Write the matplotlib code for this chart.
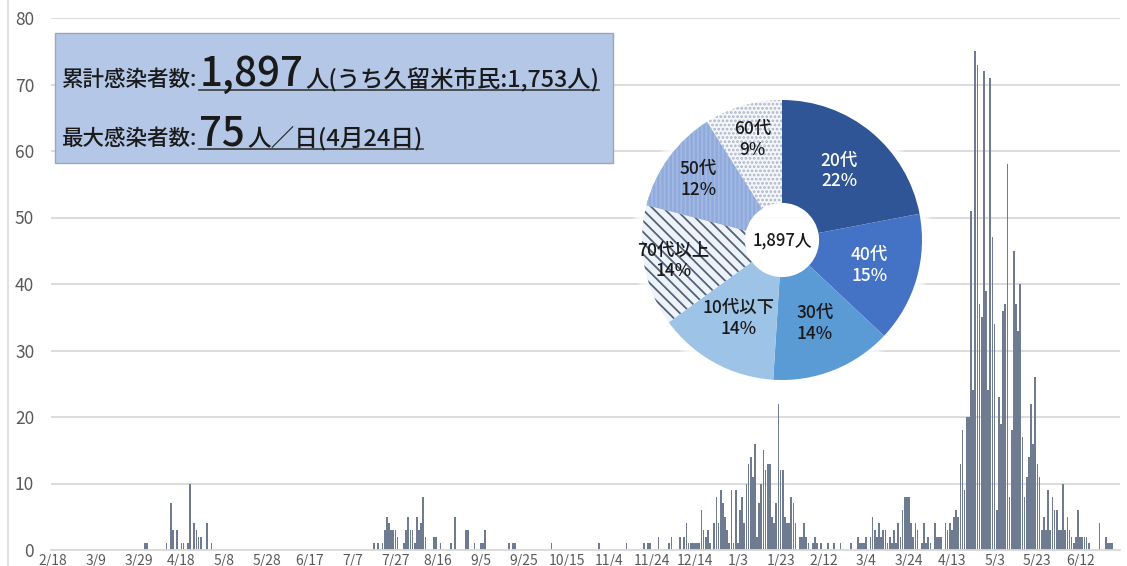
import matplotlib
matplotlib.use("Agg")
import matplotlib.pyplot as plt
import numpy as np
import pandas as pd
from matplotlib.patches import Rectangle, Wedge, Circle
from matplotlib.lines import Line2D

plt.rcParams['font.family'] = ['Noto Sans CJK JP', 'DejaVu Sans']
plt.rcParams['hatch.linewidth'] = 1.3

# ---------------- data ----------------
first_day = "2020-02-18"
n_days = 500

wave1_start = "2020-04-01"
wave1_cases = [1, 1, 0, 0, 0, 0, 0, 0, 0, 0,
               1, 0, 7, 3, 0, 3, 0, 1, 1, 0,
               1, 10, 0, 4, 3, 2, 2, 0, 0, 4,
               0, 1]

wave2_start = "2020-07-17"
wave2_cases = [1, 0, 1, 0, 1, 3, 5, 4, 3, 3,
               3, 2, 0, 0, 1, 3, 5, 3, 3, 1,
               5, 3, 4, 8, 2, 0, 0, 0, 2, 2,
               0, 1, 0, 0, 0, 0, 1, 0, 5, 0,
               0, 0, 0, 3, 3, 0, 0, 1, 0, 0,
               1, 1, 3, 0, 0, 0, 0, 0, 0, 0,
               0, 0, 0, 1, 0, 1, 1, 0, 0, 0,
               0, 0, 0, 0, 0, 0, 0, 0, 0, 0,
               0, 0, 0, 1]

wave3_start = "2020-10-30"
wave3_cases = [1, 0, 0, 0, 0, 0, 0, 0, 0, 0,
               0, 0, 0, 1, 0, 0, 0, 0, 0, 0,
               0, 1, 0, 1, 1, 0, 0, 0, 2, 0,
               0, 0, 0, 1, 2, 0, 0, 0, 2, 0,
               2, 4, 1, 1, 1, 1, 1, 1, 6, 3,
               2, 3, 1, 0, 4, 8, 4, 9, 7, 5,
               3, 1, 9, 1, 9, 1, 6, 8, 4, 10,
               13, 14, 11, 16, 2, 7, 10, 15, 12, 13,
               13, 5, 4, 7, 22, 12, 12, 5, 4, 4,
               8, 7, 4, 0, 2, 2, 4, 2, 1, 0,
               1, 2, 1, 0, 1, 0, 0, 1, 0, 0,
               1, 0, 0, 1, 0, 0, 0, 0, 1, 0]

wave4_start = "2021-02-27"
wave4_cases = [0, 2, 1, 1, 1, 2, 0, 2, 5, 3,
               2, 4, 2, 3, 3, 1, 2, 1, 3, 1,
               4, 2, 6, 8, 8, 8, 4, 2, 4, 3,
               0, 1, 4, 1, 2, 1, 0, 4, 2, 2,
               2, 0, 4, 3, 4, 3, 5, 6, 5, 13,
               18, 9, 20, 20, 51, 24, 75, 73, 37, 35,
               72, 39, 24, 71, 47, 34, 6, 23, 19, 36,
               37, 58, 8, 18, 45, 37, 33, 40, 17, 8,
               11, 14, 22, 16, 26, 13, 11, 3, 5, 3,
               9, 3, 8, 6, 6, 3, 3, 10, 3, 5,
               3, 2, 1, 2, 6, 2, 2, 2, 2, 1,
               0, 0, 0, 0, 4, 0, 0, 2, 1, 1,
               1, 0, 0, 0, 1]

y_ticks = [0, 10, 20, 30, 40, 50, 60, 70, 80]
label_step_days = 20

age_labels = ["20代", "40代", "30代", "10代以下", "70代以上", "50代", "60代"]
age_pct = [22, 15, 14, 14, 14, 12, 9]
age_colors = ["#2f5597", "#4472c4", "#5b9bd5", "#9dc3e6", "#eef3f9", "#8faadc", "#f4f6fa"]
age_hatch = [None, None, None, None, "\\\\\\", "||||", "...."]
age_hatch_color = [None, None, None, None, "#52627a", "#a3b8e2", "#aab6c8"]
age_text_color = ["white", "white", "#1a1a1a", "#1a1a1a", "#1a1a1a", "#1a1a1a", "#1a1a1a"]
age_label_r = [0.64, 0.65, 0.64, 0.64, 0.79, 0.74, 0.75]

total_cases = "1,897"
city_cases = "1,753"
max_cases = "75"
max_date = "4月24日"

# ---------------- build series ----------------
t0 = pd.Timestamp(first_day)
daily = np.zeros(n_days)
for s, vals in [(wave1_start, wave1_cases), (wave2_start, wave2_cases),
                (wave3_start, wave3_cases), (wave4_start, wave4_cases)]:
    i0 = (pd.Timestamp(s) - t0).days
    daily[i0:i0 + len(vals)] = vals
days = np.arange(n_days)

W, H = 1127, 566
fig = plt.figure(figsize=(W / 100, H / 100), dpi=100)
fig.patch.set_facecolor("white")

def fx(px):
    return px / W

def fy(py):
    return 1 - py / H

# main axes
ax_l, ax_r = 50.9, 1120
ax_t, ax_b = 18, 550
ax = fig.add_axes([fx(ax_l), fy(ax_b), (ax_r - ax_l) / W, (ax_b - ax_t) / H])
ax.bar(days, daily, width=0.8, color="#6e7b90", edgecolor="none", zorder=2)
ax.set_xlim(-1, 498.6)
ax.set_ylim(0, 80)
ax.set_yticks(y_ticks)
ax.yaxis.grid(True, color="#d9d9d9", linewidth=1.3, zorder=0)
ax.set_axisbelow(True)
for sp in ["top", "right", "left"]:
    ax.spines[sp].set_visible(False)
ax.spines["bottom"].set_color("#d9d9d9")
ax.spines["bottom"].set_linewidth(1.3)
tick_pos = np.arange(0, 481, label_step_days)
tick_lab = [f"{(t0 + pd.Timedelta(days=int(d))).month}/{(t0 + pd.Timedelta(days=int(d))).day}" for d in tick_pos]
ax.set_xticks(tick_pos)
ax.set_xticklabels(tick_lab)
ax.tick_params(axis="x", length=0, pad=3, labelsize=10, labelcolor="#595959")
ax.tick_params(axis="y", length=0, pad=12, labelsize=12.5, labelcolor="#595959")

# left border line
fig.add_artist(Line2D([fx(8), fx(8)], [0, 1], color="#d9d9d9", linewidth=1.2))

# ---------------- info box ----------------
box = Rectangle((fx(55), fy(163)), (613 - 55) / W, (163 - 33) / H, transform=fig.transFigure,
                facecolor="#b4c7e7", edgecolor="#9aa7b8", linewidth=1.0, zorder=3)
fig.add_artist(box)

fig.canvas.draw()
renderer = fig.canvas.get_renderer()

def put(xpx, ypx, s, size, weight="normal"):
    t = fig.text(fx(xpx), fy(ypx), s, fontsize=size, ha="left", va="baseline",
                 color="#1a1a1a", zorder=4, fontweight=weight)
    bb = t.get_window_extent(renderer=renderer)
    return bb.x1

x = put(62, 86, "累計感染者数:", 15.5, "medium")
u0 = x + 2
x = put(u0, 86, total_cases, 29, "medium")
x = put(x + 2, 86, f"人(うち久留米市民:{city_cases}人)", 16.8, "medium")
fig.add_artist(Line2D([fx(u0), fx(x)], [fy(90), fy(90)], color="#3a3a3a", linewidth=1.2, zorder=4))

x = put(62, 145, "最大感染者数:", 15.5, "medium")
u0 = x + 2
x = put(u0, 145, max_cases, 29, "medium")
x = put(x + 2, 145, f"人／日({max_date})", 17, "medium")
fig.add_artist(Line2D([fx(u0), fx(x)], [fy(149), fy(149)], color="#3a3a3a", linewidth=1.2, zorder=4))

# ---------------- donut ----------------
cx, cy, rpx = 782, 240, 140
half = 152
R = half / rpx
pax = fig.add_axes([fx(cx - half), fy(cy + half), 2 * half / W, 2 * half / H], zorder=5)
for k in range(6):
    pax.add_patch(Circle((0, 0), 1.0 + 0.013 * (6 - k), facecolor="white", alpha=0.3, edgecolor="none"))
wedges, _ = pax.pie(age_pct, colors=age_colors, startangle=90, counterclock=False, radius=1.0,
                    wedgeprops=dict(width=0.735, linewidth=0))
for w, hp, hc in zip(wedges, age_hatch, age_hatch_color):
    if hp:
        pax.add_patch(Wedge((0, 0), 1.0, w.theta1, w.theta2, width=0.735,
                            facecolor="none", edgecolor=hc, linewidth=0, hatch=hp))
for w, lab, p, tc, rr in zip(wedges, age_labels, age_pct, age_text_color, age_label_r):
    mid = np.deg2rad((w.theta1 + w.theta2) / 2)
    pax.text(rr * np.cos(mid), rr * np.sin(mid), f"{lab}\n{p}%", ha="center", va="center",
             fontsize=12.5, color=tc, linespacing=1.2, fontweight="medium")
pax.text(0, 0, f"{total_cases}人", ha="center", va="center", fontsize=12, color="#1a1a1a",
         fontweight="medium")
pax.set_xlim(-R, R)
pax.set_ylim(-R, R)
pax.set_aspect("equal")
pax.axis("off")

fig.savefig("out.png", dpi=100)
